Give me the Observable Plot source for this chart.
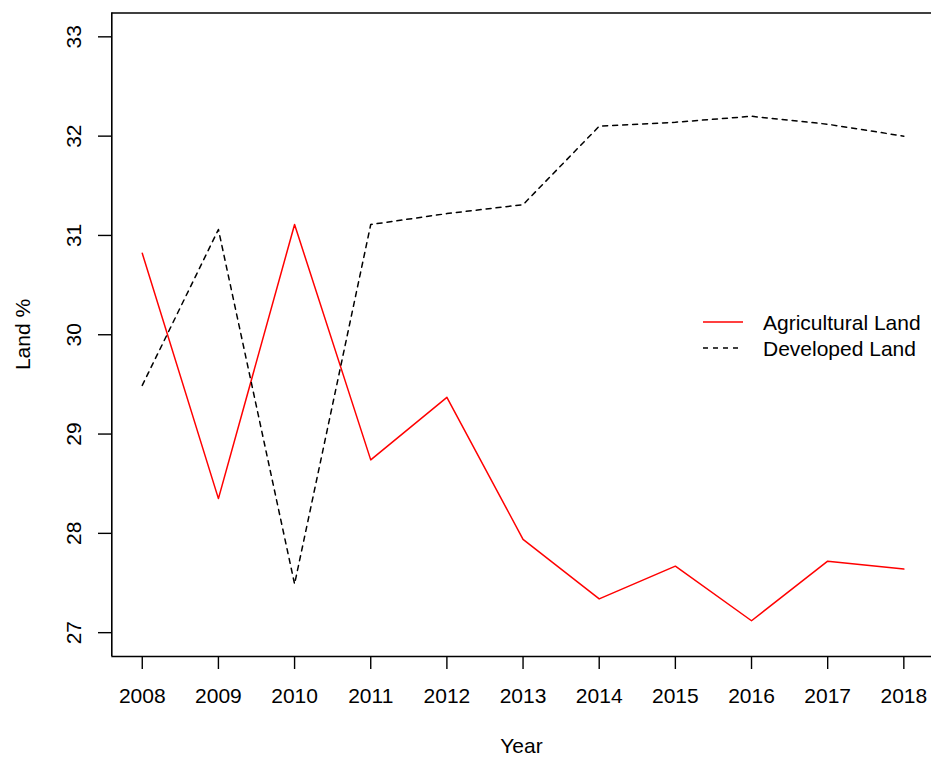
<!DOCTYPE html>
<html>
<head>
<meta charset="utf-8">
<script src="https://cdn.jsdelivr.net/npm/d3@7"></script>
<script src="https://cdn.jsdelivr.net/npm/@observablehq/plot@0.6"></script>
<style>
  html, body { margin: 0; padding: 0; background: #fff; }
  #wrap { position: relative; width: 931px; height: 757px; overflow: hidden; }
  #legend { position: absolute; left: 0; top: 0; }
</style>
</head>
<body>
<div id="wrap"></div>
<script>
// ---- data ----
const years = [2008, 2009, 2010, 2011, 2012, 2013, 2014, 2015, 2016, 2017, 2018];
const agricultural = [30.82, 28.35, 31.11, 28.74, 29.37, 27.94, 27.34, 27.67, 27.12, 27.72, 27.64];
const developed = [29.49, 31.06, 27.49, 31.11, 31.22, 31.31, 32.10, 32.14, 32.20, 32.12, 32.00];
const yTicks = [27, 28, 29, 30, 31, 32, 33];
const seriesNames = ["Agricultural Land", "Developed Land"];
const xLim = [2007.6, 2018.4];
const yLim = [26.76, 33.24];

const agriData = years.map((y, i) => ({year: y, value: agricultural[i]}));
const devData = years.map((y, i) => ({year: y, value: developed[i]}));

const font = "'Liberation Sans', Arial, Helvetica, sans-serif";

const chart = Plot.plot({
  width: 931,
  height: 757,
  marginLeft: 111,
  marginRight: 0,
  marginTop: 12,
  marginBottom: 101,
  x: {domain: xLim, range: [111.3, 933.8]},
  y: {domain: yLim, range: [656, 12.5]},
  style: {fontFamily: font, fontSize: "21px", color: "black", background: "white", overflow: "visible"},
  marks: [
    Plot.ruleX([xLim[0], xLim[1]], {y1: yLim[0], y2: yLim[1], stroke: "black", strokeWidth: 1.6}),
    Plot.ruleY(yLim, {x1: xLim[0], x2: xLim[1], stroke: "black", strokeWidth: 1.6}),
    Plot.axisX({
      ticks: years, tickFormat: d => String(d), tickSize: 13, tickPadding: 19,
      strokeWidth: 1.4, label: "Year", labelAnchor: "center", labelArrow: "none", labelOffset: 96
    }),
    Plot.axisY({
      ticks: yTicks, tickFormat: d => String(d), tickSize: 13, tickPadding: 18, tickRotate: -90,
      strokeWidth: 1.4, label: "Land %", labelAnchor: "center", labelArrow: "none", labelOffset: 96
    }),
    Plot.line(agriData, {x: "year", y: "value", stroke: "#ff0000", strokeWidth: 1.5}),
    Plot.line(devData, {x: "year", y: "value", stroke: "black", strokeWidth: 1.5, strokeDasharray: "5,5"})
  ]
});

const wrap = document.getElementById("wrap");
wrap.appendChild(chart);

// legend (R legend("right", bty="n"))
const ns = "http://www.w3.org/2000/svg";
const leg = document.createElementNS(ns, "svg");
leg.setAttribute("id", "legend");
leg.setAttribute("width", 931);
leg.setAttribute("height", 757);
leg.style.position = "absolute";
leg.style.left = "0px";
leg.style.top = "0px";
const entries = [
  {name: seriesNames[0], stroke: "#ff0000", dash: null, y: 322},
  {name: seriesNames[1], stroke: "black", dash: "5,5", y: 348}
];
for (const e of entries) {
  const l = document.createElementNS(ns, "line");
  l.setAttribute("x1", 703); l.setAttribute("x2", 743);
  l.setAttribute("y1", e.y); l.setAttribute("y2", e.y);
  l.setAttribute("stroke", e.stroke);
  l.setAttribute("stroke-width", 1.5);
  if (e.dash) l.setAttribute("stroke-dasharray", e.dash);
  leg.appendChild(l);
  const t = document.createElementNS(ns, "text");
  t.setAttribute("x", 763);
  t.setAttribute("y", e.y);
  t.setAttribute("dy", "0.36em");
  t.setAttribute("font-family", font);
  t.setAttribute("font-size", "21px");
  t.setAttribute("fill", "black");
  t.textContent = e.name;
  leg.appendChild(t);
}
wrap.appendChild(leg);
</script>
</body>
</html>
